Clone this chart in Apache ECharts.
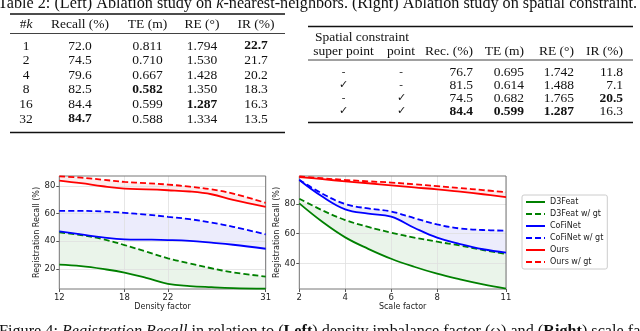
<!DOCTYPE html>
<html>
<head>
<meta charset="utf-8">
<script src="https://cdn.jsdelivr.net/npm/echarts@6.0.0/dist/echarts.min.js"></script>
<style>
html, body { margin: 0; padding: 0; background: #fff; }
#main { width: 640px; height: 331px; }
</style>
</head>
<body>
<div id="main"></div>
<script>
// table 2 left: k-nearest-neighbors
const kList = [1, 2, 4, 8, 16, 32];
const kRecall = [72.0, 74.5, 79.6, 82.5, 84.4, 84.7];
const kTE = [0.811, 0.710, 0.667, 0.582, 0.599, 0.588];
const kRE = [1.794, 1.530, 1.428, 1.350, 1.287, 1.334];
const kIR = [22.7, 21.7, 20.2, 18.3, 16.3, 13.5];

// table 2 right: spatial constraint
const useSuperPoint = [false, true, false, true];
const usePoint = [false, false, true, true];
const scRecall = [76.7, 81.5, 74.5, 84.4];
const scTE = [0.695, 0.614, 0.682, 0.599];
const scRE = [1.742, 1.488, 1.765, 1.287];
const scIR = [11.8, 7.1, 20.5, 16.3];

// figure 4 left: density factor
const densityX = [12, 14, 16, 18, 20, 22, 24, 26, 28, 31];
const dD3Feat = [23.1, 22.0, 20.0, 17.4, 13.5, 9.2, 7.6, 6.8, 6.2, 5.8];
const dD3FeatGt = [46.4, 44.5, 41.5, 37.3, 32.5, 27.7, 24.0, 20.5, 17.5, 14.5];
const dCoFiNet = [47.2, 45.0, 42.8, 41.4, 41.2, 40.9, 40.3, 39.0, 37.5, 34.6];
const dCoFiNetGt = [62.0, 62.0, 61.5, 60.6, 59.3, 57.7, 56.0, 53.5, 50.5, 45.0];
const dOurs = [83.9, 82.0, 79.8, 78.1, 77.6, 76.9, 76.0, 74.0, 70.0, 64.9];
const dOursGt = [87.0, 86.0, 84.5, 82.9, 82.0, 81.0, 79.5, 77.5, 74.5, 67.8];

// figure 4 right: scale factor
const scaleX = [2, 3, 4, 5, 6, 7, 8, 9, 10, 11];
const sD3Feat = [80.4, 68.0, 57.5, 49.8, 43.1, 37.7, 33.0, 29.2, 25.8, 22.9];
const sD3FeatGt = [83.6, 75.8, 69.2, 64.6, 60.7, 57.4, 54.6, 52.0, 49.0, 46.3];
const sCoFiNet = [96.2, 85.0, 76.4, 73.5, 71.5, 64.0, 57.3, 53.0, 49.5, 47.2];
const sCoFiNetGt = [96.4, 87.0, 80.0, 77.0, 75.0, 70.5, 66.3, 63.5, 62.5, 62.0];
const sOurs = [98.2, 96.8, 95.3, 94.0, 92.6, 91.2, 89.9, 88.3, 86.6, 84.7];
const sOursGt = [98.6, 97.4, 96.2, 95.3, 94.5, 93.3, 92.1, 90.8, 89.4, 88.0];

const densityTicks = [12, 18, 22, 31];
const scaleTicks = [2, 4, 6, 8, 11];
const densityYTicks = [20, 40, 60, 80];
const scaleYTicks = [40, 60, 80];

const serif = '"Liberation Serif", "Times New Roman", serif';
const sans = '"DejaVu Sans", sans-serif';

const chart = echarts.init(document.getElementById('main'));

// ---------- tables as graphic text ----------
const els = [];
function txt(x, y, text, align, opt) {
    els.push({
        type: 'text', x: x, y: y, silent: true,
        style: Object.assign({
            text: text, fill: '#111', fontFamily: serif, fontSize: 13.5,
            align: align || 'center', verticalAlign: 'middle'
        }, opt || {})
    });
}
function rule(x1, x2, y, w) {
    els.push({
        type: 'line', silent: true,
        shape: { x1: x1, y1: y, x2: x2, y2: y },
        style: { stroke: '#111', lineWidth: w }
    });
}
function bestIdx(arr, useMax) {
    let b = 0;
    arr.forEach((v, i) => { if (useMax ? v > arr[b] : v < arr[b]) b = i; });
    return b;
}
function richSet(size) {
    return {
        n: { fontFamily: serif, fontSize: size, fill: '#111' },
        i: { fontFamily: serif, fontSize: size, fontStyle: 'italic', fill: '#111' },
        b: { fontFamily: serif, fontSize: size, fontWeight: 'bold', fill: '#111' }
    };
}

// title line (cut at top of page)
txt(-2, 4, '{n|Table 2: (Left) Ablation study on }{i|k}{n|-nearest-neighbors. (Right) Ablation study on spatial constraint.}', 'left',
    { fontSize: 16.2, rich: richSet(16.2) });

// left table
const lCols = [26, 80, 147.5, 202, 256];
const lRows = [46, 60.6, 75.2, 89.8, 104.4, 119];
rule(10, 285, 14, 1.3);
txt(lCols[0], 24, '{n|#}{i|k}', 'center', { rich: richSet(13.5) });
['Recall (%)', 'TE (m)', 'RE (\u00b0)', 'IR (%)'].forEach((h, j) => txt(lCols[j + 1], 24, h));
rule(10, 285, 33.5, 0.8);
const lData = [[kRecall, 1, true], [kTE, 3, false], [kRE, 3, false], [kIR, 1, true]];
kList.forEach((k, i) => {
    txt(lCols[0], lRows[i], String(k));
    lData.forEach(([arr, dec, mx], j) => {
        const bold = bestIdx(arr, mx) === i;
        txt(lCols[j + 1], lRows[i], arr[i].toFixed(dec), 'center', bold ? { fontWeight: 'bold' } : {});
    });
});
rule(10, 285, 132.5, 1.3);

// right table
const rRows = [72, 85.2, 98.4, 111.6];
rule(308, 633, 26.5, 1.3);
txt(362, 37, 'Spatial constraint');
txt(343.5, 51, 'super point');
txt(401, 51, 'point');
const rRight = [473, 524, 574, 623];
['Rec. (%)', 'TE (m)', 'RE (\u00b0)', 'IR (%)'].forEach((h, j) => txt(rRight[j], 51, h, 'right'));
rule(308, 633, 60, 0.8);
const rData = [[scRecall, 1, true], [scTE, 3, false], [scRE, 3, false], [scIR, 1, true]];
useSuperPoint.forEach((sp, i) => {
    txt(343.5, rRows[i], sp ? '\u2713' : '-', 'center', { fontSize: 11 });
    txt(401, rRows[i], usePoint[i] ? '\u2713' : '-', 'center', { fontSize: 11 });
    rData.forEach(([arr, dec, mx], j) => {
        const bold = bestIdx(arr, mx) === i;
        txt(rRight[j], rRows[i], arr[i].toFixed(dec), 'right', bold ? { fontWeight: 'bold' } : {});
    });
});
rule(308, 633, 122.5, 1.3);

// figure caption (cut at bottom of page)
txt(-1, 332, '{n|Figure 4: }{i|Registration Recall}{n| in relation to (}{b|Left}{n|) density imbalance factor (\u03c9) and (}{b|Right}{n|) scale factor (s).}', 'left',
    { fontSize: 16.2, rich: richSet(16.2) });

// ---------- plots ----------
const GREEN = '#008000', BLUE = '#0000ff', RED = '#ff0000';
const SMOOTH = 0.4;

function pts(xs, ys) { return xs.map((x, i) => [x, ys[i]]); }

// band between two curves: coloured area under the upper one, white area under the lower one
function band(idx, xs, lo, hi, color) {
    const common = {
        type: 'line', xAxisIndex: idx, yAxisIndex: idx,
        smooth: SMOOTH, symbol: 'none', silent: true, z: 1,
        lineStyle: { width: 0, opacity: 0 }
    };
    return [
        Object.assign({ name: 'fill', data: pts(xs, hi), areaStyle: { color: color, opacity: 1, origin: 'start' } }, common),
        Object.assign({ name: 'fill', data: pts(xs, lo), areaStyle: { color: '#ffffff', opacity: 1, origin: 'start' } }, common)
    ];
}

function line(idx, name, xs, ys, color, dashed) {
    return {
        type: 'line', name: name, xAxisIndex: idx, yAxisIndex: idx,
        smooth: SMOOTH, symbol: 'none', z: 5,
        lineStyle: { color: color, width: 1.8, type: dashed ? [6, 3] : 'solid' },
        itemStyle: { color: color },
        data: pts(xs, ys)
    };
}

function xAxisOf(idx, min, max, ticks, name) {
    return {
        gridIndex: idx, type: 'value', min: min, max: max, z: 3,
        name: name, nameLocation: 'middle', nameGap: 12,
        nameTextStyle: { fontFamily: sans, fontSize: 8, color: '#222' },
        axisLine: { show: false },
        axisTick: { show: true, length: 3, customValues: ticks, lineStyle: { color: '#555' } },
        axisLabel: { customValues: ticks, fontFamily: sans, fontSize: 8.5, color: '#222', margin: 4 },
        splitLine: { show: true, lineStyle: { color: '#e0e0e0', width: 0.8 } }
    };
}
function yAxisOf(idx, min, max, ticks, gap) {
    return {
        gridIndex: idx, type: 'value', min: min, max: max, z: 3,
        name: 'Registration Recall (%)', nameLocation: 'middle', nameGap: gap,
        nameTextStyle: { fontFamily: sans, fontSize: 8, color: '#222' },
        axisLine: { show: false },
        axisTick: { show: true, length: 3, customValues: ticks, lineStyle: { color: '#555' } },
        axisLabel: { customValues: ticks, fontFamily: sans, fontSize: 8.5, color: '#222', margin: 4 },
        splitLine: { show: true, lineStyle: { color: '#e0e0e0', width: 0.8 } }
    };
}

const gridStyle = { show: true, z: 4, borderColor: '#777', borderWidth: 1, backgroundColor: 'transparent' };

const PINK = '#fdecec', LAVENDER = '#ececfc', PALEGREEN = '#eaf4ea';

const series = [].concat(
    band(0, densityX, dOurs, dOursGt, PINK),
    band(0, densityX, dCoFiNet, dCoFiNetGt, LAVENDER),
    band(0, densityX, dD3Feat, dD3FeatGt, PALEGREEN),
    band(1, scaleX, sOurs, sOursGt, PINK),
    band(1, scaleX, sCoFiNet, sCoFiNetGt, LAVENDER),
    band(1, scaleX, sD3Feat, sD3FeatGt, PALEGREEN),
    [
        line(0, 'D3Feat', densityX, dD3Feat, GREEN, false),
        line(0, 'D3Feat w/ gt', densityX, dD3FeatGt, GREEN, true),
        line(0, 'CoFiNet', densityX, dCoFiNet, BLUE, false),
        line(0, 'CoFiNet w/ gt', densityX, dCoFiNetGt, BLUE, true),
        line(0, 'Ours', densityX, dOurs, RED, false),
        line(0, 'Ours w/ gt', densityX, dOursGt, RED, true),
        line(1, 'D3Feat', scaleX, sD3Feat, GREEN, false),
        line(1, 'D3Feat w/ gt', scaleX, sD3FeatGt, GREEN, true),
        line(1, 'CoFiNet', scaleX, sCoFiNet, BLUE, false),
        line(1, 'CoFiNet w/ gt', scaleX, sCoFiNetGt, BLUE, true),
        line(1, 'Ours', scaleX, sOurs, RED, false),
        line(1, 'Ours w/ gt', scaleX, sOursGt, RED, true)
    ]
);

const option = {
    backgroundColor: '#fff',
    animation: false,
    grid: [
        Object.assign({ left: 59.3, top: 176, width: 206.4, height: 113 }, gridStyle),
        Object.assign({ left: 299.3, top: 176, width: 206.7, height: 113 }, gridStyle)
    ],
    xAxis: [
        xAxisOf(0, 12, 31, densityTicks, 'Density factor'),
        xAxisOf(1, 2, 11, scaleTicks, 'Scale factor')
    ],
    yAxis: [
        yAxisOf(0, 5.5, 87.2, densityYTicks, 14.5),
        yAxisOf(1, 22.7, 98.9, scaleYTicks, 14)
    ],
    legend: {
        orient: 'vertical', left: 522, top: 195,
        data: ['D3Feat', 'D3Feat w/ gt', 'CoFiNet', 'CoFiNet w/ gt', 'Ours', 'Ours w/ gt'],
        itemWidth: 19, itemHeight: 10, itemGap: 2,
        padding: [2, 4, 2, 3],
        borderColor: '#cccccc', borderWidth: 1, borderRadius: 2,
        backgroundColor: '#fff',
        itemStyle: { color: 'rgba(0,0,0,0)', opacity: 0, borderWidth: 0 },
        textStyle: { fontFamily: sans, fontSize: 8, color: '#222', lineHeight: 10 },
        selectedMode: false
    },
    graphic: els,
    series: series
};

chart.setOption(option);
</script>
</body>
</html>
